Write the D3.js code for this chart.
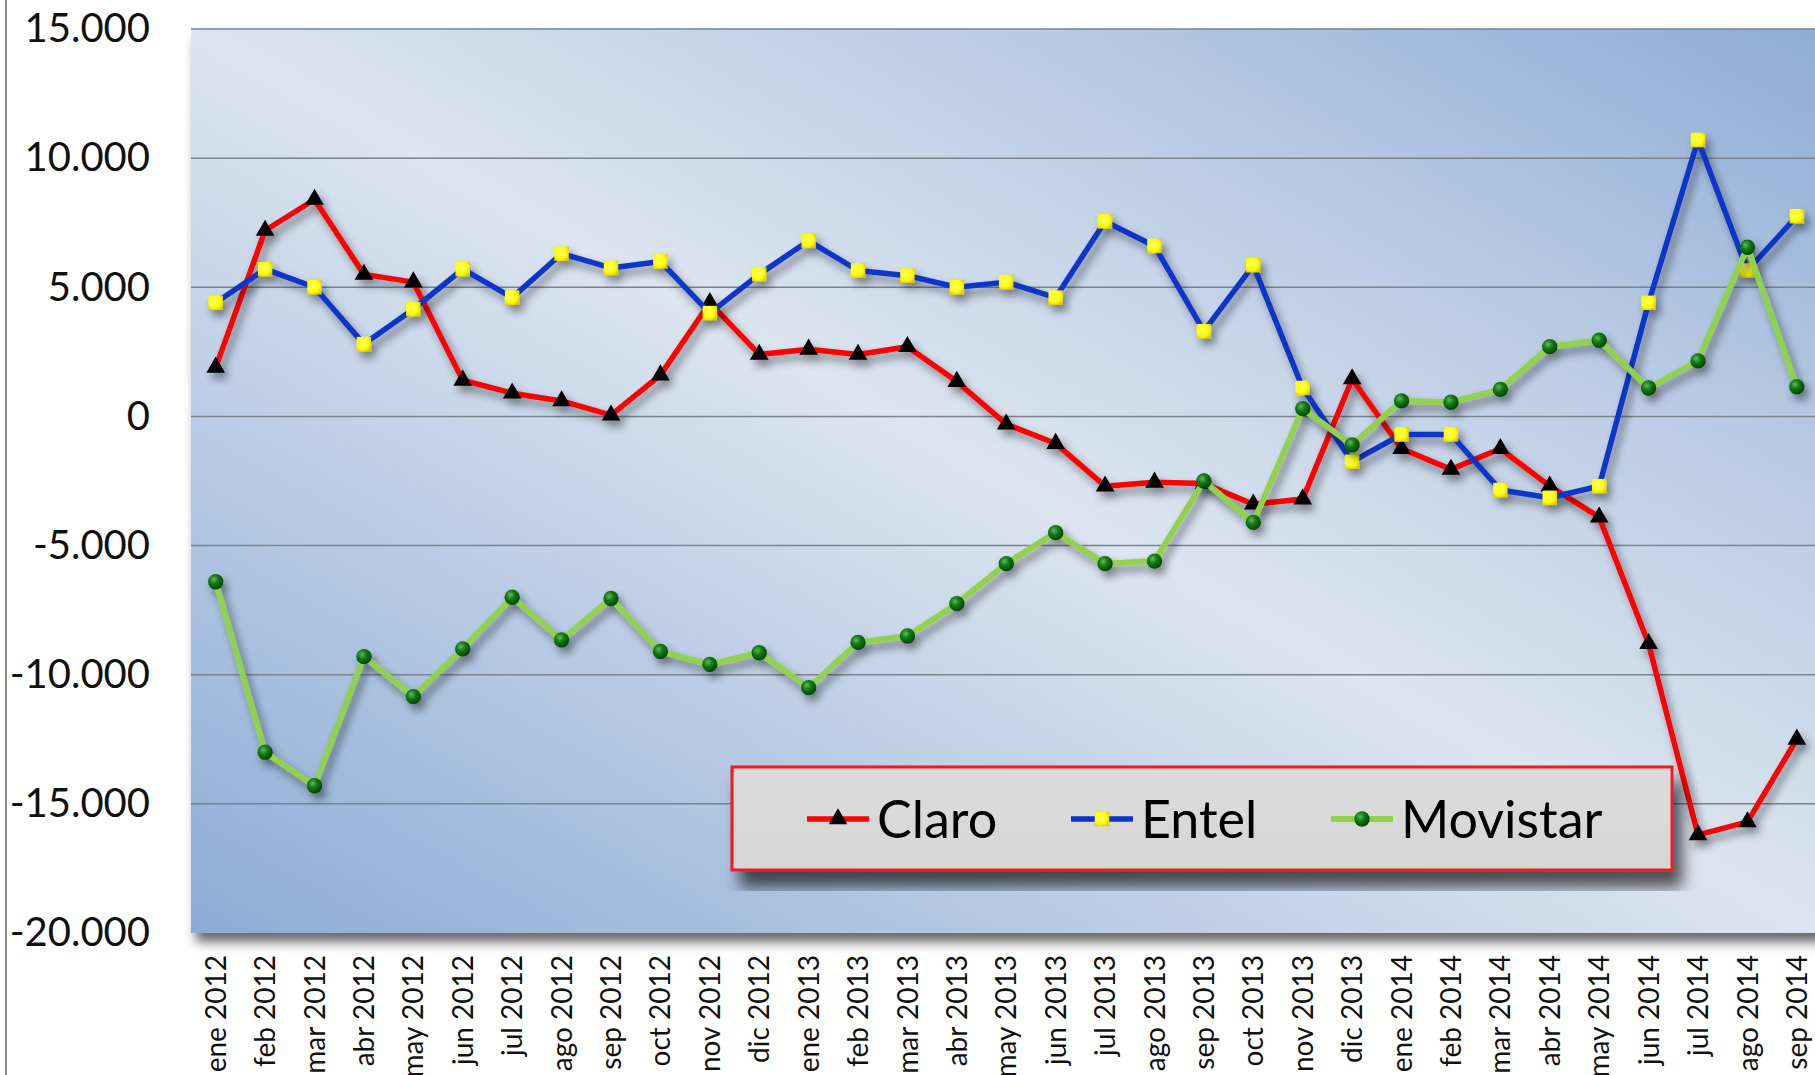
<!DOCTYPE html>
<html>
<head>
<meta charset="utf-8">
<script src="https://cdn.jsdelivr.net/npm/d3@7"></script>
<style>
  body { margin: 0; background: #fff; }
  svg { display: block; font-family: Lato, "Open Sans", sans-serif; }
</style>
</head>
<body>
<div id="chart"></div>
<script>
// months shown on the x axis
var months = ["ene 2012","feb 2012","mar 2012","abr 2012","may 2012","jun 2012","jul 2012","ago 2012","sep 2012","oct 2012","nov 2012","dic 2012",
  "ene 2013","feb 2013","mar 2013","abr 2013","may 2013","jun 2013","jul 2013","ago 2013","sep 2013","oct 2013","nov 2013","dic 2013",
  "ene 2014","feb 2014","mar 2014","abr 2014","may 2014","jun 2014","jul 2014","ago 2014","sep 2014"];

// series values
var claro = [1900, 7200, 8400, 5500, 5200, 1400, 900, 600, 50, 1600, 4400, 2400,
  2600, 2400, 2700, 1350, -300, -1050, -2700, -2550, -2600, -3400, -3200, 1450,
  -1250, -2050, -1250, -2700, -3900, -8800, -16200, -15700, -12500];
var entel = [4400, 5700, 5000, 2800, 4150, 5700, 4600, 6300, 5750, 6000, 4000, 5500,
  6800, 5650, 5450, 5000, 5200, 4600, 7550, 6600, 3300, 5850, 1100, -1750,
  -700, -700, -2850, -3150, -2700, 4400, 10700, 5650, 7750];
var movistar = [-6400, -13000, -14300, -9300, -10850, -9000, -7000, -8650, -7050, -9100, -9600, -9150,
  -10500, -8750, -8500, -7250, -5700, -4500, -5700, -5600, -2500, -4100, 300, -1100,
  600, 550, 1050, 2700, 2950, 1100, 2150, 6550, 1150];

var seriesNames = ["Claro", "Entel", "Movistar"];
var yTicks = [-20000, -15000, -10000, -5000, 0, 5000, 10000, 15000];

var W = 1815, H = 1075;
var margin = {top: 29, left: 191},
    plotW = months.length * 49.41,
    plotH = 904;

var svg = d3.select("#chart").append("svg")
    .attr("width", W)
    .attr("height", H);

var defs = svg.append("defs");

// plot background: dark at bottom-left / top-right, light along the other diagonal
var bg = defs.append("linearGradient").attr("id", "bg")
    .attr("x1", 0).attr("y1", 1).attr("x2", 1).attr("y2", 0);
bg.append("stop").attr("offset", "0%").attr("stop-color", "#8cabd5");
bg.append("stop").attr("offset", "25%").attr("stop-color", "#b4c8e3");
bg.append("stop").attr("offset", "50%").attr("stop-color", "#dce5f0");
bg.append("stop").attr("offset", "75%").attr("stop-color", "#b9cbe4");
bg.append("stop").attr("offset", "100%").attr("stop-color", "#8eacd5");

var legendBg = defs.append("linearGradient").attr("id", "legendBg")
    .attr("x1", 0).attr("y1", 0).attr("x2", 0).attr("y2", 1);
legendBg.append("stop").attr("offset", "0%").attr("stop-color", "#dcdcdc");
legendBg.append("stop").attr("offset", "100%").attr("stop-color", "#d6d6d6");

var sq = defs.append("radialGradient").attr("id", "sq").attr("cx", "40%").attr("cy", "40%").attr("r", "70%");
sq.append("stop").attr("offset", "0%").attr("stop-color", "#ffff66");
sq.append("stop").attr("offset", "60%").attr("stop-color", "#ffff00");
sq.append("stop").attr("offset", "100%").attr("stop-color", "#d8c800");

var dot = defs.append("radialGradient").attr("id", "dot").attr("cx", "38%").attr("cy", "35%").attr("r", "65%");
dot.append("stop").attr("offset", "0%").attr("stop-color", "#5fb85f");
dot.append("stop").attr("offset", "45%").attr("stop-color", "#137a13");
dot.append("stop").attr("offset", "100%").attr("stop-color", "#004800");

function shadow(id, dx, dy, sd, op) {
  defs.append("filter").attr("id", id)
      .attr("x", "-20%").attr("y", "-20%").attr("width", "140%").attr("height", "140%")
    .append("feDropShadow")
      .attr("dx", dx).attr("dy", dy).attr("stdDeviation", sd)
      .attr("flood-color", "#000").attr("flood-opacity", op);
}
shadow("plotShadow", 5, 9, 6, 0.6);
shadow("lineShadow", 4, 6, 4, 0.45);
shadow("legendShadow", 9, 16, 8, 0.65);

// outer chart border on the left
svg.append("line")
    .attr("x1", 6).attr("x2", 6).attr("y1", 0).attr("y2", H)
    .attr("stroke", "#8c8c8c").attr("stroke-width", 2);

var x = d3.scaleBand()
    .domain(months)
    .range([margin.left, margin.left + plotW]);

var y = d3.scaleLinear()
    .domain([-20000, 15000])
    .range([margin.top + plotH, margin.top]);

var fmt = d3.formatLocale({decimal: ",", thousands: ".", grouping: [3], currency: ["", ""], minus: "-"}).format(",d");

svg.append("rect")
    .attr("x", margin.left).attr("y", margin.top)
    .attr("width", plotW).attr("height", plotH)
    .attr("fill", "url(#bg)")
    .attr("filter", "url(#plotShadow)");

// horizontal gridlines
svg.append("g")
  .selectAll("line")
  .data(yTicks.slice(1))
  .join("line")
    .attr("x1", margin.left).attr("x2", margin.left + plotW)
    .attr("y1", function(d) { return y(d); })
    .attr("y2", function(d) { return y(d); })
    .attr("stroke", "#7a838e").attr("stroke-width", 1.5);

// y axis labels
var yAxis = svg.append("g")
    .attr("transform", "translate(" + (margin.left - 41) + ",0)")
    .call(d3.axisLeft(y).tickValues(yTicks).tickFormat(fmt).tickSize(0).tickPadding(0));
yAxis.select(".domain").remove();
yAxis.selectAll("text")
    .attr("font-family", "Lato, sans-serif")
    .attr("font-size", 40)
    .attr("fill", "#111");

// x axis labels, rotated
svg.append("g")
  .selectAll("text")
  .data(months)
  .join("text")
    .attr("transform", function(d) {
      return "translate(" + (x(d) + x.bandwidth() / 2) + "," + (margin.top + plotH + 22) + ") rotate(-90)";
    })
    .attr("text-anchor", "end")
    .attr("dy", "0.36em")
    .attr("font-size", 28)
    .attr("fill", "#111")
    .text(function(d) { return d; });

var cx = function(d, i) { return x(months[i]) + x.bandwidth() / 2; };
var line = d3.line()
    .x(cx)
    .y(function(d) { return y(d); });

var series = [
  {name: "Claro", values: claro, color: "#ff0000", width: 5.5, symbol: d3.symbolTriangle, size: 150, fill: "#000"},
  {name: "Entel", values: entel, color: "#0b35c8", width: 5.5, symbol: d3.symbolSquare, size: 210, fill: "url(#sq)"},
  {name: "Movistar", values: movistar, color: "#92d050", width: 6, symbol: d3.symbolCircle, size: 185, fill: "url(#dot)"}
];

series.forEach(function(s) {
  var g = svg.append("g").attr("filter", "url(#lineShadow)");
  g.append("path")
      .datum(s.values)
      .attr("d", line)
      .attr("fill", "none")
      .attr("stroke", s.color)
      .attr("stroke-width", s.width)
      .attr("stroke-linejoin", "round");
  g.selectAll("path.mark")
    .data(s.values)
    .join("path")
      .attr("class", "mark")
      .attr("transform", function(d, i) { return "translate(" + cx(d, i) + "," + y(d) + ")"; })
      .attr("d", d3.symbol(s.symbol, s.size))
      .attr("fill", s.fill);
});

// legend
var legend = svg.append("g");
legend.append("rect")
    .attr("x", 732).attr("y", 767)
    .attr("width", 940).attr("height", 103)
    .attr("fill", "url(#legendBg)")
    .attr("stroke", "#ee1c24").attr("stroke-width", 3)
    .attr("filter", "url(#legendShadow)");

var legendX = [807, 1071, 1331];
var legendY = 819;
series.forEach(function(s, i) {
  var lx = legendX[i];
  legend.append("line")
      .attr("x1", lx).attr("x2", lx + 62)
      .attr("y1", legendY).attr("y2", legendY)
      .attr("stroke", s.color).attr("stroke-width", s.width);
  legend.append("path")
      .attr("transform", "translate(" + (lx + 31) + "," + legendY + ")")
      .attr("d", d3.symbol(s.symbol, s.size))
      .attr("fill", s.fill);
  legend.append("text")
      .attr("x", lx + 70).attr("y", legendY)
      .attr("dy", "0.36em")
      .attr("font-size", 52)
      .attr("fill", "#000")
      .text(s.name);
});
</script>
</body>
</html>
